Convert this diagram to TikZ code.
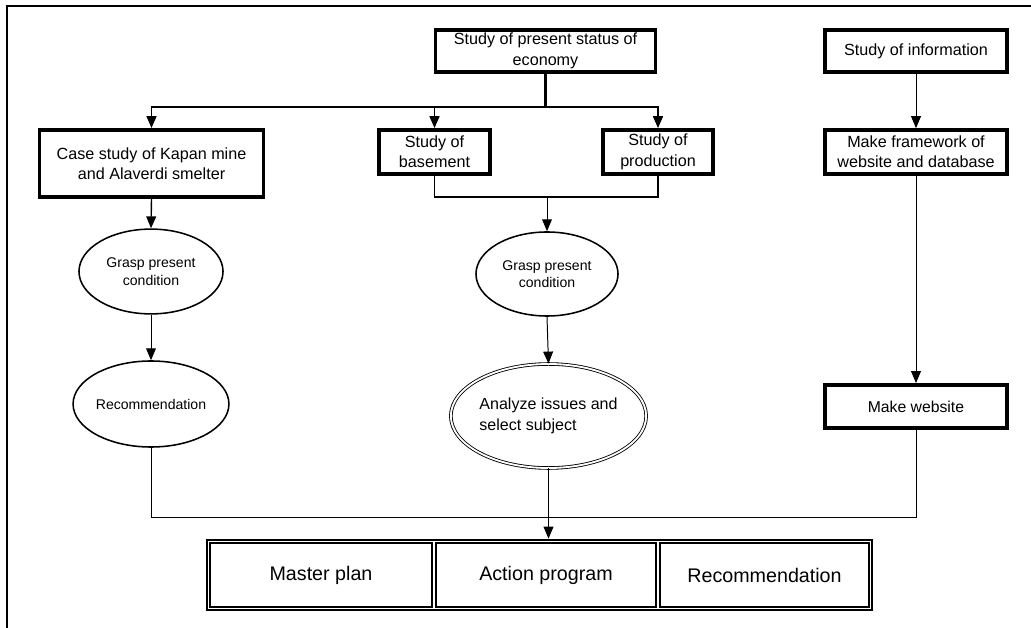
\documentclass[tikz,border=0pt]{standalone}
\usepackage{fontspec}
\setmainfont{Liberation Sans}
\usetikzlibrary{arrows.meta,shapes.geometric,fit}

\tikzset{
    stepbox/.style={draw, line width=2.6pt, align=center, inner sep=0pt,
        font=\fontsize{11.5}{14.5}\selectfont},
    oval/.style={draw, ellipse, line width=1.1pt, align=center, inner sep=0pt,
        font=\fontsize{10}{12.5}\selectfont},
    cell/.style={draw, line width=1.6pt, inner sep=0pt, minimum height=1.6cm,
        font=\fontsize{14}{17}\selectfont},
    link/.style={line width=0.7pt},
    flow/.style={line width=0.7pt, -{Triangle[width=7pt,length=8.5pt]}},
}

\begin{document}
\begin{tikzpicture}[x=0.025cm, y=-0.025cm]
    \useasboundingbox (0,0) rectangle (1031,628);

    % Draw the frame (top and left side only)
    \draw[line width=1.4pt] (7,628) -- (7,6) -- (1031,6);

    % Study boxes
    \node[stepbox, minimum width=5.5cm, minimum height=1.05cm] (eco) at (545.5,51) {Study of present status of\\economy};
    \node[stepbox, minimum width=4.55cm, minimum height=1.05cm] (info) at (916,51) {Study of information};
    \node[stepbox, minimum width=5.6cm, minimum height=1.68cm] (kapan) at (151.5,163.5) {Case study of Kapan mine\\and Alaverdi smelter};
    \node[stepbox, minimum width=2.78cm, minimum height=1.1cm] (base) at (434.5,152) {Study of\\basement};
    \node[stepbox, minimum width=2.76cm, minimum height=1.1cm] (prod) at (658,152) {Study of\\production};
    \node[stepbox, minimum width=4.55cm, minimum height=1.1cm] (fw) at (916,152) {Make framework of\\website and database};
    \node[stepbox, minimum width=4.55cm, minimum height=1.08cm, font=\fontsize{11.2}{14}\selectfont] (web) at (916,406.5) {Make website};

    % Ellipses
    \node[oval, minimum width=3.6cm, minimum height=2.12cm] (grasp1) at (151,271.5) {Grasp present\\ condition};
    \node[oval, minimum width=3.55cm, minimum height=2.1cm] (grasp2) at (547,274) {Grasp present\\ condition};
    \node[oval, minimum width=3.6cm, minimum height=2.15cm] (rec) at (151,404) {Recommendation};
    \node[oval, line width=0.6pt, double, double distance=1.3pt, minimum width=4.8cm, minimum height=2.6cm, align=left, font=\fontsize{11.4}{15}\selectfont] (issue) at (548.5,416) {Analyze issues and\\select subject};

    % Output boxes
    \node[cell, minimum width=5.55cm] (mp) at (321,575) {Master plan};
    \node[cell, minimum width=5.5cm] (ap) at (546,575) {Action program};
    \node[cell, minimum width=5.22cm] (rc) at (764.5,575) {Recommendation};
    \node[draw, line width=1.6pt, inner sep=1.5pt, fit=(mp)(ap)(rc)] (out) {};

    % Split from the economy study
    \coordinate (split) at (eco.south |- 0,107);
    \draw[line width=1.6pt] (eco.south) -- (split);
    \draw[flow, line width=1.4pt] (split) -| (kapan.north);
    \draw[flow, line width=1.4pt] (split) -| (base.north);
    \draw[flow, line width=1.4pt] (split) -| (prod.north);

    % Join basement and production
    \coordinate (join) at (grasp2.north |- 0,197);
    \draw[line width=1.2pt] (base.south) |- (join) -| (prod.south);
    \draw[flow] (join) -- (grasp2.north);

    % Arrows down each column
    \draw[flow, line width=1pt] (kapan.south) -- (grasp1.north);
    \draw[flow] (grasp1.south) -- (rec.north);
    \draw[flow] (grasp2.south) -- (issue.north);
    \draw[flow] (info.south) -- (fw.north);
    \draw[flow] (fw.south) -- (web.north);

    % Merge into the output
    \coordinate (merge) at (rec.south |- 0,517);
    \draw[link] (rec.south) -- (merge) -| (web.south);
    \draw[flow] (issue.south) -- (issue.south |- out.north);
\end{tikzpicture}
\end{document}
